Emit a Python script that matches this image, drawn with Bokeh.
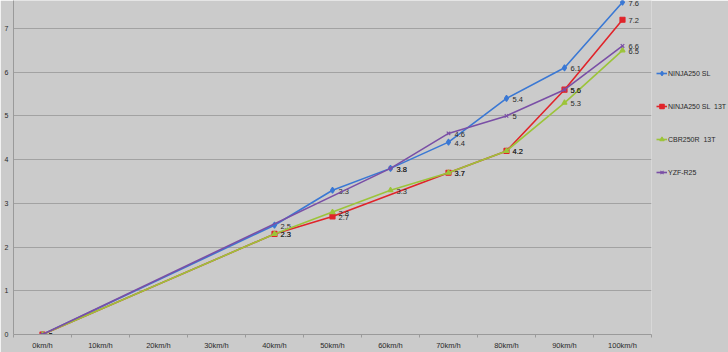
from bokeh.plotting import figure
from bokeh.models import ColumnDataSource, FixedTicker, Range1d, Legend, LegendItem
from bokeh.embed import file_html
from bokeh.resources import INLINE
from bokeh.core.properties import value

categories = ["0km/h", "10km/h", "20km/h", "30km/h", "40km/h", "50km/h",
              "60km/h", "70km/h", "80km/h", "90km/h", "100km/h"]
ninja250sl = [0, None, None, None, 2.5, 3.3, 3.8, 4.4, 5.4, 6.1, 7.6]
ninja250sl_13t = [0, None, None, None, 2.3, 2.7, None, 3.7, 4.2, 5.6, 7.2]
cbr250r_13t = [0, None, None, None, 2.3, 2.8, 3.3, 3.7, 4.2, 5.3, 6.5]
yzf_r25 = [0, None, None, None, None, None, 3.8, 4.6, 5.0, 5.6, 6.6]
y_ticks = [0, 1, 2, 3, 4, 5, 6, 7]

series = [
    ("NINJA250 SL", ninja250sl, "#3a78d4", "diamond", 6),
    ("NINJA250 SL  13T", ninja250sl_13t, "#e0242a", "square", 5),
    ("CBR250R  13T", cbr250r_13t, "#9cc43a", "triangle", 5),
    ("YZF-R25", yzf_r25, "#7a4fa6", "x", 5),
]

BG = "#cbcbcb"
FONT = "Liberation Sans"

p = figure(frame_width=638, frame_height=334, output_backend="svg", toolbar_location=None,
           x_range=Range1d(-0.5, len(categories) - 0.5), y_range=Range1d(0, 7.64),
           min_border_left=13, min_border_right=77, min_border_top=0, min_border_bottom=18)
p.background_fill_color = BG
p.border_fill_color = BG
p.outline_line_color = None

p.xgrid.visible = False
p.ygrid.ticker = FixedTicker(ticks=y_ticks[1:])
p.ygrid.grid_line_color = "#a2a2a2"
p.ygrid.grid_line_width = 1

xa = p.xaxis[0]
xa.ticker = FixedTicker(ticks=list(range(len(categories))),
                        minor_ticks=[i - 0.5 for i in range(len(categories) + 1)])
xa.major_label_overrides = {i: c for i, c in enumerate(categories)}
xa.major_tick_line_color = None
xa.major_tick_out = 0
xa.major_tick_in = 0
xa.minor_tick_line_color = "#9a9a9a"
xa.minor_tick_out = 3
xa.minor_tick_in = 0
xa.axis_line_color = "#9a9a9a"
xa.major_label_text_font = FONT
xa.major_label_text_font_size = "7.5px"
xa.major_label_text_color = "#2a2a2a"
xa.major_label_standoff = 3

ya = p.yaxis[0]
ya.ticker = FixedTicker(ticks=y_ticks)
ya.major_tick_line_color = None
ya.major_tick_out = 0
ya.major_tick_in = 0
ya.minor_tick_line_color = None
ya.minor_tick_out = 0
ya.minor_tick_in = 0
ya.axis_line_color = "#9a9a9a"
ya.major_label_text_font = FONT
ya.major_label_text_font_size = "7px"
ya.major_label_text_color = "#2a2a2a"
ya.major_label_standoff = 5

items = []
for name, vals, color, marker, size in series:
    xs = [i for i, v in enumerate(vals) if v is not None]
    ys = [v for v in vals if v is not None]
    labels = [("%g" % v) for v in ys]
    src = ColumnDataSource(dict(x=xs, y=ys, label=labels))
    ln = p.line("x", "y", source=src, line_color=color, line_width=1.6)
    sc = p.scatter("x", "y", source=src, marker=marker, size=size,
                   fill_color=color, line_color=color, line_width=1.2)
    p.text("x", "y", text="label", source=src, x_offset=6, y_offset=1,
           text_font=value(FONT), text_font_size="7.5px", text_color="#2a2a2a",
           text_baseline="middle", text_align="left")
    items.append(LegendItem(label=name, renderers=[ln, sc]))

legend = Legend(items=items, location=(5, 152), orientation="vertical",
                padding=0, margin=0, spacing=13, glyph_width=11, glyph_height=20,
                label_height=20, label_standoff=1,
                label_text_font=FONT, label_text_font_size="7px",
                label_text_color="#2a2a2a",
                border_line_color=None, background_fill_alpha=0)
p.add_layout(legend, "right")

open("out.html", "w").write(file_html(p, INLINE))
